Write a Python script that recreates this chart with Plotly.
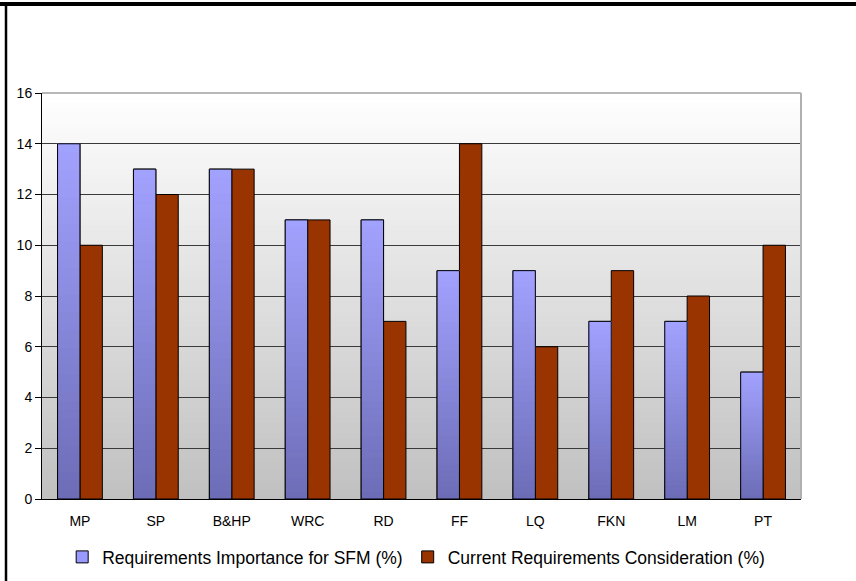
import plotly.graph_objects as go

# Requirement categories and the two percentage series
categories = ["MP", "SP", "B&HP", "WRC", "RD", "FF", "LQ", "FKN", "LM", "PT"]
importance = [14, 13, 13, 11, 11, 9, 9, 7, 7, 5]
consideration = [10, 12, 13, 11, 7, 14, 6, 9, 8, 10]
series_names = ["Requirements Importance for SFM (%)", "Current Requirements Consideration (%)"]
y_ticks = [0, 2, 4, 6, 8, 10, 12, 14, 16]

W, H = 856, 581
ML, MR, MT, MB = 42, 55, 93, 82
PW, PH = W - ML - MR, H - MT - MB

FONT = "Liberation Sans, Arial, sans-serif"
BROWN = "#993300"


def mix(c1, c2, t):
    return "rgb(%d,%d,%d)" % tuple(round(a + (b - a) * t) for a, b in zip(c1, c2))


fig = go.Figure()

# base bars (legend entries)
fig.add_trace(go.Bar(
    x=categories, y=importance, name=series_names[0], offsetgroup="imp",
    marker=dict(color="#9999ff", line=dict(color="#000000", width=1)),
))
fig.add_trace(go.Bar(
    x=categories, y=consideration, name=series_names[1], offsetgroup="con",
    marker=dict(color=BROWN, line=dict(color="#000000", width=1)),
))

# vertical shading of the importance bars: light at the top, darker at the base.
# Each layer spans from its base up to the bar top, so layers overlap without seams.
N_SEG = 40
top_c, bot_c = (162, 162, 255), (108, 108, 182)
for i in range(N_SEG):
    t = (i + 0.5) / N_SEG
    bases = [v * i / N_SEG for v in importance]
    fig.add_trace(go.Bar(
        x=categories,
        y=[v - b for v, b in zip(importance, bases)],
        base=bases,
        offsetgroup="imp",
        marker=dict(color=mix(bot_c, top_c, t), line=dict(width=0)),
        showlegend=False, hoverinfo="skip",
    ))
# outline drawn over the shaded layers
fig.add_trace(go.Bar(
    x=categories, y=importance, offsetgroup="imp",
    marker=dict(color="rgba(0,0,0,0)", line=dict(color="#000000", width=1)),
    showlegend=False, hoverinfo="skip",
))

# plot-area background: white at the top fading to grey at the bottom
shapes = []
N_BG = 80
for i in range(N_BG):
    t = (i + 0.5) / N_BG
    shapes.append(dict(
        type="rect", xref="paper", yref="paper", x0=0, x1=1,
        y0=i / N_BG, y1=1,
        fillcolor=mix((192, 192, 192), (255, 255, 255), t),
        line=dict(width=0), layer="below",
    ))

# grey plot-area border on top and right
shapes.append(dict(type="line", xref="paper", yref="paper", x0=0, x1=1, y0=1, y1=1,
                   line=dict(color="#a0a0a0", width=1.5), layer="above"))
shapes.append(dict(type="line", xref="paper", yref="paper", x0=1, x1=1, y0=0, y1=1,
                   line=dict(color="#b0b0b0", width=2), layer="above"))


# outer frame: thick top rule and left rule
def px_x(p):
    return (p - ML) / PW


def px_y(p):
    return (H - MB - p) / PH


shapes.append(dict(type="line", xref="paper", yref="paper",
                   x0=px_x(0), x1=px_x(W), y0=px_y(4), y1=px_y(4),
                   line=dict(color="#000000", width=4), layer="above"))
shapes.append(dict(type="line", xref="paper", yref="paper",
                   x0=px_x(6), x1=px_x(6), y0=px_y(2), y1=px_y(H + 2),
                   line=dict(color="#000000", width=2.5), layer="above"))

fig.update_layout(
    width=W, height=H,
    margin=dict(l=ML, r=MR, t=MT, b=MB, pad=0, autoexpand=False),
    paper_bgcolor="#ffffff",
    plot_bgcolor="rgba(0,0,0,0)",
    barmode="group", bargap=0.41, bargroupgap=0,
    font=dict(family=FONT, size=14, color="#000000"),
    shapes=shapes,
    showlegend=True,
    legend=dict(
        orientation="h", x=0.493, xanchor="center", y=-(557 - (H - MB)) / PH, yanchor="middle",
        font=dict(family=FONT, size=17.5, color="#000000"),
        bgcolor="rgba(0,0,0,0)", itemwidth=30, traceorder="normal",
    ),
    xaxis=dict(
        type="category", showgrid=False, ticks="", showline=True,
        linecolor="#000000", linewidth=1, ticklabelstandoff=9,
        tickfont=dict(family=FONT, size=14), fixedrange=True,
    ),
    yaxis=dict(
        range=[0, 16], tickvals=y_ticks, showgrid=True, gridcolor="#3a3a3a", gridwidth=1,
        zeroline=False, showline=True, linecolor="#000000", linewidth=1,
        ticks="outside", ticklen=6, tickcolor="#000000",
        tickfont=dict(family=FONT, size=14), fixedrange=True,
    ),
)

fig.write_html("out.html")
